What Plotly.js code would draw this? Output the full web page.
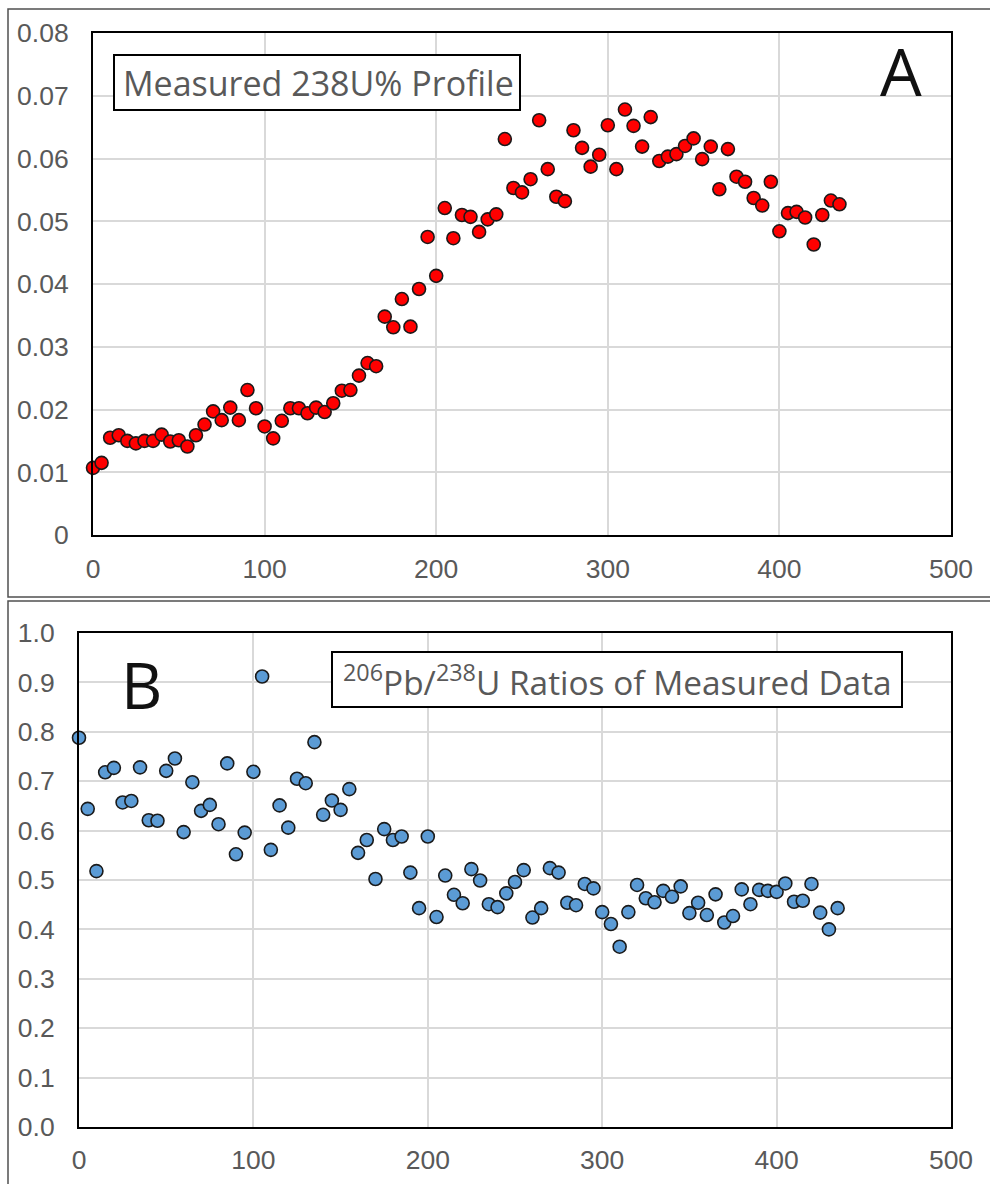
<!DOCTYPE html>
<html>
<head>
<meta charset="utf-8">
<script src="https://cdn.plot.ly/plotly-3.0.1.min.js"></script>
<style>html,body{margin:0;padding:0;background:#fff;}#chart{width:990px;height:1184px;}</style>
</head>
<body>
<div id="chart"></div>
<script>
// ---- Data ----
const positionsA = [0,5,10,15,20,25,30,35,40,45,50,55,60,65,70,75,80,85,90,95,100,105,110,115,120,125,130,135,140,145,150,155,160,165,170,175,180,185,190,195,200,205,210,215,220,225,230,235,240,245,250,255,260,265,270,275,280,285,290,295,300,305,310,315,320,325,330,335,340,345,350,355,360,365,370,375,380,385,390,395,400,405,410,415,420,425,430,435];
const uranium238 = [0.0107,0.0115,0.0155,0.0159,0.0150,0.0146,0.0150,0.0150,0.0160,0.0149,0.0151,0.0141,0.0159,0.0176,0.0197,0.0183,0.0203,0.0183,0.0231,0.0202,0.0173,0.0154,0.0182,0.0202,0.0202,0.0194,0.0203,0.0196,0.0210,0.0230,0.0231,0.0254,0.0274,0.0269,0.0348,0.0331,0.0376,0.0332,0.0392,0.0475,0.0413,0.0521,0.0473,0.0510,0.0507,0.0483,0.0503,0.0511,0.0631,0.0553,0.0546,0.0567,0.0661,0.0583,0.0539,0.0532,0.0645,0.0617,0.0587,0.0606,0.0653,0.0583,0.0678,0.0652,0.0619,0.0666,0.0596,0.0603,0.0607,0.0620,0.0632,0.0599,0.0619,0.0551,0.0615,0.0571,0.0563,0.0537,0.0525,0.0563,0.0484,0.0513,0.0515,0.0506,0.0463,0.0510,0.0533,0.0527];

const positionsB = [0,5,10,15,20,25,30,35,40,45,50,55,60,65,70,75,80,85,90,95,100,105,110,115,120,125,130,135,140,145,150,155,160,165,170,175,180,185,190,195,200,205,210,215,220,225,230,235,240,245,250,255,260,265,270,275,280,285,290,295,300,305,310,315,320,325,330,335,340,345,350,355,360,365,370,375,380,385,390,395,400,405,410,415,420,425,430,435];
const pbU238Ratio = [0.788,0.644,0.518,0.718,0.727,0.657,0.660,0.728,0.621,0.620,0.721,0.746,0.597,0.698,0.640,0.652,0.613,0.736,0.552,0.596,0.719,0.912,0.561,0.651,0.606,0.705,0.696,0.779,0.632,0.661,0.642,0.684,0.555,0.581,0.502,0.603,0.581,0.588,0.515,0.443,0.588,0.425,0.509,0.470,0.453,0.522,0.499,0.451,0.445,0.473,0.496,0.520,0.424,0.443,0.524,0.515,0.454,0.449,0.492,0.483,0.435,0.411,0.365,0.435,0.490,0.463,0.455,0.478,0.466,0.487,0.433,0.454,0.429,0.471,0.414,0.427,0.481,0.451,0.480,0.478,0.476,0.493,0.456,0.458,0.492,0.434,0.400,0.443];

const xTickVals = [0,100,200,300,400,500];
const xTickText = ['0','100','200','300','400','500'];
const yTickValsA = [0,0.01,0.02,0.03,0.04,0.05,0.06,0.07,0.08];
const yTickTextA = ['0','0.01','0.02','0.03','0.04','0.05','0.06','0.07','0.08'];
const yTickValsB = [0,0.1,0.2,0.3,0.4,0.5,0.6,0.7,0.8,0.9,1.0];
const yTickTextB = ['0.0','0.1','0.2','0.3','0.4','0.5','0.6','0.7','0.8','0.9','1.0'];

const titleA = 'Measured 238U% Profile';
const titleB = '<sup>206</sup>Pb/<sup>238</sup>U Ratios of Measured Data';
const panelA = 'A';
const panelB = 'B';

// ---- Layout helpers (pixel -> paper) ----
const W = 990, H = 1184;
const px = v => v / W;
const py = v => 1 - v / H;

const tickFont = {family: 'Liberation Sans, Arial, sans-serif', size: 26.5, color: '#595959'};
const boxFont = {family: 'Open Sans, sans-serif', size: 34, color: '#595959'};
const letterFont = {family: 'Open Sans, sans-serif', size: 66, color: '#111111'};

const axisCommon = {
  showline: true, mirror: true, linecolor: '#000000', linewidth: 2,
  showgrid: true, gridcolor: '#d9d9d9', gridwidth: 2,
  zeroline: false, ticks: '', tickfont: tickFont, fixedrange: true
};

const traceA = {
  x: positionsA, y: uranium238, type: 'scatter', mode: 'markers',
  xaxis: 'x', yaxis: 'y', cliponaxis: false,
  marker: {size: 13, color: '#ff0000', line: {color: '#1a1a1a', width: 1.6}},
  showlegend: false, hoverinfo: 'x+y'
};
const traceB = {
  x: positionsB, y: pbU238Ratio, type: 'scatter', mode: 'markers',
  xaxis: 'x2', yaxis: 'y2', cliponaxis: false,
  marker: {size: 13, color: '#5b9bd5', line: {color: '#1a1a1a', width: 1.6}},
  showlegend: false, hoverinfo: 'x+y'
};

const layout = {
  width: W, height: H,
  margin: {l: 0, r: 0, t: 0, b: 0},
  paper_bgcolor: '#ffffff', plot_bgcolor: '#ffffff',
  showlegend: false,
  xaxis: Object.assign({}, axisCommon, {
    domain: [px(93), px(951)], range: [0, 500], anchor: 'y',
    tickvals: xTickVals, ticktext: xTickText, ticklabelstandoff: 9
  }),
  yaxis: Object.assign({}, axisCommon, {
    domain: [py(535), py(33)], range: [0, 0.08], anchor: 'x',
    tickvals: yTickValsA, ticktext: yTickTextA, ticklabelstandoff: 17
  }),
  xaxis2: Object.assign({}, axisCommon, {
    domain: [px(79), px(951)], range: [0, 500], anchor: 'y2',
    tickvals: xTickVals, ticktext: xTickText, ticklabelstandoff: 8
  }),
  yaxis2: Object.assign({}, axisCommon, {
    domain: [py(1127), py(633)], range: [0, 1.0], anchor: 'x2',
    tickvals: yTickValsB, ticktext: yTickTextB, ticklabelstandoff: 17
  }),
  shapes: [
    // outer panel frames
    {type: 'rect', xref: 'paper', yref: 'paper', x0: px(8), x1: px(1010), y0: py(597), y1: py(9),
     line: {color: '#505050', width: 1.5}, fillcolor: 'rgba(0,0,0,0)', layer: 'below'},
    {type: 'rect', xref: 'paper', yref: 'paper', x0: px(8), x1: px(1010), y0: py(1200), y1: py(601),
     line: {color: '#505050', width: 1.5}, fillcolor: 'rgba(0,0,0,0)', layer: 'below'},
    // text boxes
    {type: 'rect', xref: 'paper', yref: 'paper', x0: px(114), x1: px(520), y0: py(110), y1: py(55),
     line: {color: '#000000', width: 2}, fillcolor: '#ffffff', layer: 'above'},
    {type: 'rect', xref: 'paper', yref: 'paper', x0: px(332), x1: px(902), y0: py(707), y1: py(652),
     line: {color: '#000000', width: 2}, fillcolor: '#ffffff', layer: 'above'}
  ],
  annotations: [
    {xref: 'paper', yref: 'paper', x: px(318), y: py(83), xanchor: 'center', yanchor: 'middle',
     text: titleA, showarrow: false, font: boxFont},
    {xref: 'paper', yref: 'paper', x: px(617), y: py(680), xanchor: 'center', yanchor: 'middle',
     text: titleB, showarrow: false, font: Object.assign({}, boxFont, {size: 33.4})},
    {xref: 'paper', yref: 'paper', x: px(901), y: py(70), xanchor: 'center', yanchor: 'middle',
     text: panelA, showarrow: false, font: letterFont},
    {xref: 'paper', yref: 'paper', x: px(141), y: py(684), xanchor: 'center', yanchor: 'middle',
     text: panelB, showarrow: false, font: Object.assign({}, letterFont, {size: 64})}
  ]
};

Plotly.newPlot('chart', [traceA, traceB], layout, {displayModeBar: false, staticPlot: true});
</script>
</body>
</html>
